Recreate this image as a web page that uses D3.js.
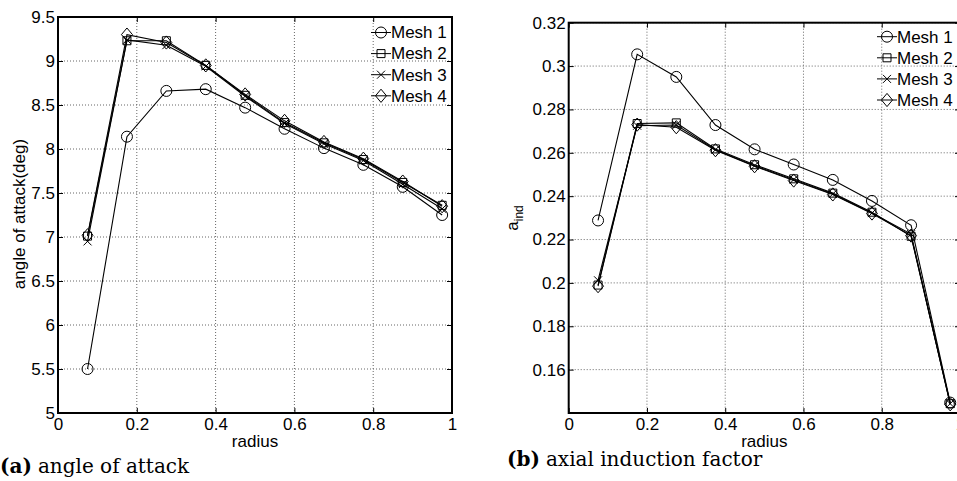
<!DOCTYPE html>
<html>
<head>
<meta charset="utf-8">
<script src="https://cdn.jsdelivr.net/npm/d3@7"></script>
<style>
  body { margin: 0; background: #fff; }
  text { font-family: "Liberation Sans", Arial, sans-serif; fill: #000; }
  .cap { font-family: "DejaVu Serif", "Liberation Serif", serif; }
</style>
</head>
<body>
<div id="chart"></div>
<script>
var width = 957;
var height = 481;

// radial stations
var radius = [0.075, 0.175, 0.275, 0.375, 0.475, 0.575, 0.675, 0.775, 0.875, 0.975];
var meshNames = ["Mesh 1", "Mesh 2", "Mesh 3", "Mesh 4"];

// (a) angle of attack (deg)
var aoaMesh1 = [5.50, 8.14, 8.66, 8.68, 8.47, 8.23, 8.01, 7.82, 7.57, 7.25];
var aoaMesh2 = [7.01, 9.23, 9.23, 8.95, 8.61, 8.30, 8.07, 7.88, 7.62, 7.36];
var aoaMesh3 = [6.95, 9.24, 9.18, 8.94, 8.60, 8.29, 8.06, 7.87, 7.60, 7.32];
var aoaMesh4 = [7.02, 9.30, 9.21, 8.95, 8.62, 8.32, 8.08, 7.89, 7.63, 7.35];

// (b) axial induction factor
var indMesh1 = [0.2288, 0.3054, 0.2950, 0.2728, 0.2616, 0.2546, 0.2475, 0.2378, 0.2266, 0.1448];
var indMesh2 = [0.1990, 0.2735, 0.2738, 0.2618, 0.2545, 0.2480, 0.2414, 0.2326, 0.2215, 0.1443];
var indMesh3 = [0.2012, 0.2725, 0.2728, 0.2614, 0.2540, 0.2476, 0.2410, 0.2322, 0.2225, 0.1443];
var indMesh4 = [0.1985, 0.2730, 0.2718, 0.2612, 0.2538, 0.2472, 0.2408, 0.2320, 0.2218, 0.1440];

var xTicks = [0, 0.2, 0.4, 0.6, 0.8, 1];
var aoaTicks = [5, 5.5, 6, 6.5, 7, 7.5, 8, 8.5, 9, 9.5];
var indTicks = [0.16, 0.18, 0.2, 0.22, 0.24, 0.26, 0.28, 0.3, 0.32];

var svg = d3.select("#chart").append("svg")
  .attr("width", width)
  .attr("height", height);

// marker shapes, MATLAB style
function marker(type, s) {
  if (type == "circle") return d3.symbol().type(d3.symbolCircle).size(Math.PI * s * s)();
  if (type == "square") return "M" + (-s) + "," + (-s) + "H" + s + "V" + s + "H" + (-s) + "Z";
  if (type == "cross") return "M" + (-s) + "," + (-s) + "L" + s + "," + s + "M" + (-s) + "," + s + "L" + s + "," + (-s);
  var d = s * 1.2;
  return "M0," + (-d) + "L" + s + ",0L0," + d + "L" + (-s) + ",0Z";
}
var markerTypes = ["circle", "square", "cross", "diamond"];
var markerSizes = [5.5, 4, 4, 5.5];

function drawPanel(p) {
  var g = svg.append("g");
  var x = d3.scaleLinear().domain([0, 1]).range([p.left, p.right]);
  var y = d3.scaleLinear().domain(p.yDomain).range([p.bottom, p.top]);

  // grid
  g.selectAll(".gx").data(xTicks.slice(1, -1)).enter().append("line")
    .attr("x1", function(d){ return x(d); }).attr("x2", function(d){ return x(d); })
    .attr("y1", p.top).attr("y2", p.bottom)
    .attr("stroke", "#666").attr("stroke-width", 1).attr("stroke-dasharray", "1,2");
  g.selectAll(".gy").data(p.yTicks).enter().append("line")
    .attr("x1", p.left).attr("x2", p.right)
    .attr("y1", function(d){ return y(d); }).attr("y2", function(d){ return y(d); })
    .attr("stroke", "#666").attr("stroke-width", 1).attr("stroke-dasharray", "1,2");

  // axes
  var xAxis = d3.axisBottom(x).tickValues(xTicks).tickSize(-5).tickPadding(5)
    .tickFormat(function(d){ return d3.format("")(d); });
  g.append("g").attr("transform", "translate(0," + p.bottom + ")").call(xAxis);
  var yAxis = d3.axisLeft(y).tickValues(p.yTicks).tickSize(-5).tickPadding(3)
    .tickFormat(function(d){ return d3.format("")(+d.toFixed(2)); });
  g.append("g").attr("transform", "translate(" + p.left + ",0)").call(yAxis);
  g.append("g").attr("transform", "translate(0," + p.top + ")")
    .call(d3.axisTop(x).tickValues(xTicks).tickSize(-5).tickFormat(""));
  g.append("g").attr("transform", "translate(" + p.right + ",0)")
    .call(d3.axisRight(y).tickValues(p.yTicks).tickSize(-5).tickFormat(""));
  g.selectAll(".domain").remove();
  g.selectAll(".tick line").attr("stroke", "#000");
  g.selectAll(".tick text").attr("font-size", 17).attr("fill", "#000")
    .style("font-family", "'Liberation Sans', Arial, sans-serif");

  g.append("rect")
    .attr("x", p.left).attr("y", p.top)
    .attr("width", p.right - p.left).attr("height", p.bottom - p.top)
    .attr("fill", "none").attr("stroke", "#000").attr("stroke-width", 2);

  // series
  var line = d3.line()
    .x(function(d, i){ return x(radius[i]); })
    .y(function(d){ return y(d); });

  p.series.forEach(function(s, k) {
    g.append("path").datum(s)
      .attr("d", line).attr("fill", "none")
      .attr("stroke", "#000").attr("stroke-width", 1.1);
    g.selectAll(".m" + k).data(s).enter().append("path")
      .attr("transform", function(d, i){ return "translate(" + x(radius[i]) + "," + y(d) + ")"; })
      .attr("d", marker(markerTypes[k], markerSizes[k]))
      .attr("fill", "none").attr("stroke", "#000").attr("stroke-width", 1);
  });

  // legend
  meshNames.forEach(function(name, k) {
    var ly = p.legendY + k * 21.1;
    g.append("line").attr("x1", p.legendX).attr("x2", p.legendX + 20)
      .attr("y1", ly).attr("y2", ly).attr("stroke", "#000");
    g.append("path").attr("transform", "translate(" + (p.legendX + 10) + "," + ly + ")")
      .attr("d", marker(markerTypes[k], markerSizes[k]))
      .attr("fill", "none").attr("stroke", "#000");
    g.append("text").attr("x", p.legendX + 20).attr("y", ly + 5.8)
      .attr("font-size", 17).text(name);
  });

  g.append("text")
    .attr("x", (p.left + p.right) / 2).attr("y", 447)
    .attr("text-anchor", "middle").attr("font-size", 17).text("radius");

  return g;
}

var ga = drawPanel({
  left: 58, right: 452, top: 17, bottom: 413,
  yDomain: [5, 9.5], yTicks: aoaTicks,
  series: [aoaMesh1, aoaMesh2, aoaMesh3, aoaMesh4],
  legendX: 371, legendY: 32.5
});
ga.append("text")
  .attr("transform", "translate(25,214) rotate(-90)")
  .attr("text-anchor", "middle").attr("font-size", 17)
  .text("angle of attack(deg)");

var gb = drawPanel({
  left: 568.7, right: 960, top: 22.7, bottom: 413,
  yDomain: [0.14, 0.32], yTicks: indTicks,
  series: [indMesh1, indMesh2, indMesh3, indMesh4],
  legendX: 877, legendY: 36.7
});
var yl = gb.append("text")
  .attr("transform", "translate(518,218) rotate(-90)")
  .attr("text-anchor", "middle").attr("font-size", 17);
yl.append("tspan").text("a");
yl.append("tspan").attr("dy", 5).attr("font-size", 12).text("ind");

// captions
var captions = [["(a)", "angle of attack", 0, 473], ["(b)", "axial induction factor", 507, 466]];
captions.forEach(function(c) {
  var t = svg.append("text").attr("class", "cap")
    .attr("x", c[2]).attr("y", c[3]).attr("font-size", 20);
  t.append("tspan").attr("font-weight", "bold").text(c[0]);
  t.append("tspan").attr("dx", 6).text(c[1]);
});
</script>
</body>
</html>
